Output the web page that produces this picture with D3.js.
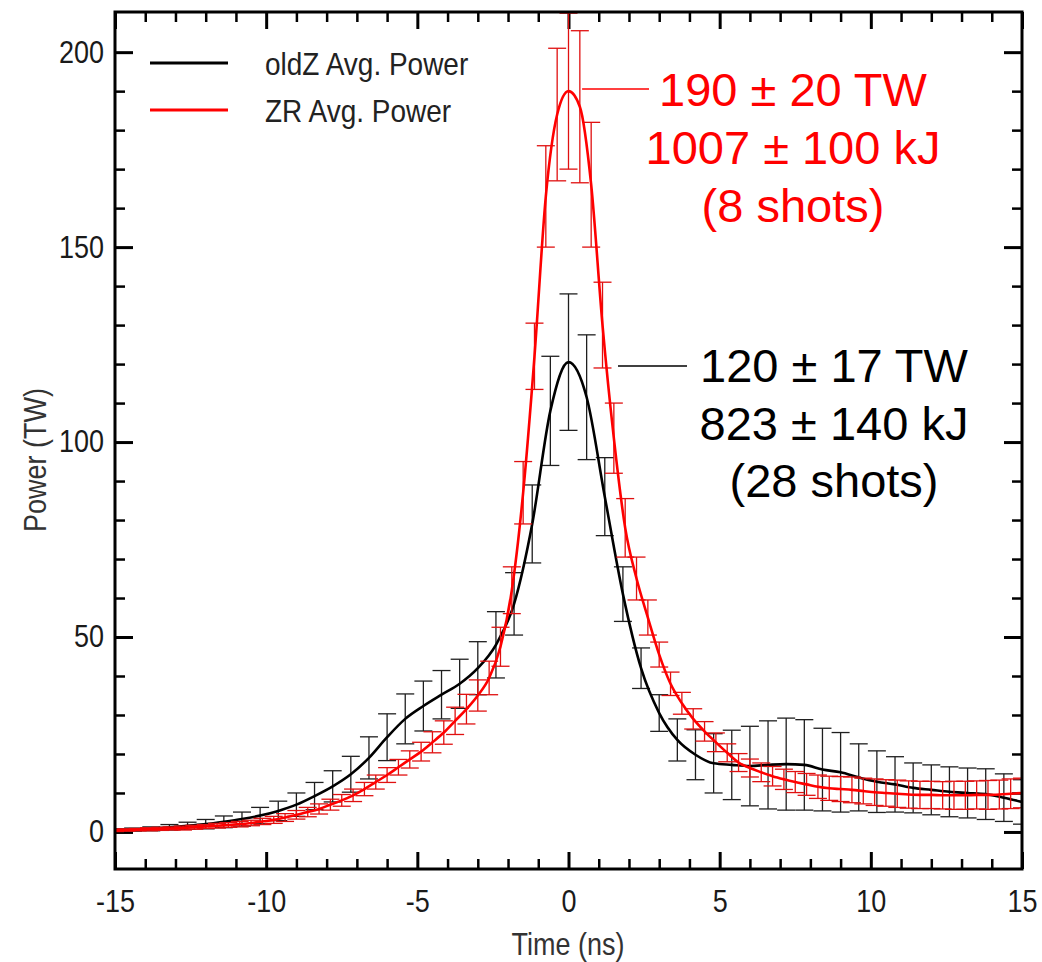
<!DOCTYPE html>
<html><head><meta charset="utf-8">
<script src="https://cdn.jsdelivr.net/npm/d3@7"></script>
<style>html,body{margin:0;padding:0;background:#fff;}svg{display:block;font-family:"Liberation Sans",Arial,sans-serif;}</style>
</head><body><svg id="chart" width="1042" height="962"></svg>
<script>
// ---- data ----
const timeOldZ = [-15,-14.4,-13.8,-13.2,-12.6,-12,-11.4,-10.8,-10.2,-9.6,-9,-8.4,-7.8,-7.2,-6.6,-6,-5.4,-4.8,-4.2,-3.6,-3,-2.4,-1.8,-1.2,-0.6,0,0.6,1.2,1.8,2.4,3,3.6,4.2,4.8,5.4,6,6.6,7.2,7.8,8.4,9,9.6,10.2,10.8,11.4,12,12.6,13.2,13.8,14.4,15];
const powerOldZ = [0.5,0.6,0.8,1.2,1.6,2.0,2.6,3.3,4.2,5.4,
  7.0,9.2,11.7,14.8,19.0,24.3,29.0,32.3,35.2,38.0,
  42.0,48.0,58.5,79,108,120.5,111.5,86,61,42,
  30.5,23.6,19.8,17.6,17.2,16.9,17.2,17.4,17.2,16.0,
  15.3,14.0,12.9,12.2,11.3,10.8,10.3,10.0,9.7,8.8,7.7];
const errOldZ = [0.3,0.4,0.5,0.7,0.9,1.2,1.5,1.8,2.1,2.5,
  3.0,3.5,4.0,4.6,5.4,6.0,6.4,6.4,6.2,6.3,
  6.8,8.5,8.0,10,14,17.5,16,10,7,5.2,
  4.7,5.4,6.4,7.6,8.9,10.2,11.3,11.8,11.6,10.6,
  10.2,8.6,7.9,7.1,6.4,6.4,6.4,6.4,6.5,6.1,5.7];

const timeZR = [-15,-14.625,-14.25,-13.875,-13.5,-13.125,-12.75,-12.375,-12,-11.625,-11.25,-10.875,-10.5,-10.125,-9.75,-9.375,-9,-8.625,-8.25,-7.875,-7.5,-7.125,-6.75,-6.375,-6,-5.625,-5.25,-4.875,-4.5,-4.125,-3.75,-3.375,-3,-2.625,-2.25,-1.875,-1.5,-1.125,-0.75,-0.375,0,0.375,0.75,1.125,1.5,1.875,2.25,2.625,3,3.375,3.75,4.125,4.5,4.875,5.25,5.625,6,6.375,6.75,7.125,7.5,7.875,8.25,8.625,9,9.375,9.75,10.125,10.5,10.875,11.25,11.625,12,12.375,12.75,13.125,13.5,13.875,14.25,14.625,15];
const powerZR = [0.4,0.5,0.6,0.7,0.8,0.9,1.0,1.2,1.4,1.6,
  1.8,2.0,2.3,2.7,3.1,3.7,4.4,5.1,5.9,7.0,
  8.1,9.4,11.0,12.8,14.6,16.6,18.6,20.6,23.0,25.5,
  28.5,31.5,35.0,39.5,47.5,62,87,122,163,184,
  190,186,166,130,101,78,65,55,45.5,38,
  33,29,25.8,23,20.3,17.8,16.4,15.3,14.3,13.5,
  12.8,12.2,11.6,11.2,11.0,10.8,10.5,10.2,10.0,9.8,
  9.6,9.5,9.5,9.4,9.4,9.4,9.5,9.5,9.6,9.8,10.0];
const errZR = [0.3,0.3,0.3,0.4,0.4,0.4,0.5,0.5,0.5,0.6,
  0.6,0.7,0.7,0.8,0.9,1.0,1.1,1.2,1.3,1.4,
  1.5,1.6,1.7,1.8,1.9,2.0,2.2,2.4,2.7,3.0,
  3.5,3.8,4.0,4.3,5.0,6.0,8.0,8.5,13,17,
  20,19.5,16,11,9,7.5,5.5,4.5,3.2,3.0,
  2.8,2.6,2.5,2.4,2.3,2.3,2.3,2.4,2.5,2.6,
  2.7,2.8,3.0,3.1,3.2,3.3,3.3,3.4,3.4,3.5,
  3.5,3.5,3.5,3.5,3.6,3.6,3.6,3.7,3.7,3.8,3.8];

const xMajorTicks = [-15,-10,-5,0,5,10,15];
const yMajorTicks = [0,50,100,150,200];
const seriesNames = ["oldZ Avg. Power","ZR Avg. Power"];
const annotZR = ["190 \u00b1 20 TW","1007 \u00b1 100 kJ","(8 shots)"];
const annotOldZ = ["120 \u00b1 17 TW","823 \u00b1 140 kJ","(28 shots)"];

// ---- layout ----
const L = 115, R = 1022, T = 12, B = 869;
const SY = 1.15; // vertical stretch of the original figure's text
const svg = d3.select("#chart");
svg.append("rect").attr("width",1042).attr("height",962).attr("fill","#fff");

const x = d3.scaleLinear().domain([-15,15]).range([L,R]);
const y = d3.scaleLinear().domain([-9.5,210.3]).range([B,T]);

const xMinor = d3.range(-15,15.01,1).filter(v => v % 5 !== 0);
const yMinor = d3.range(0,210,10).filter(v => v % 50 !== 0);

function styleAxis(g, w){
  g.select(".domain").remove();
  g.selectAll(".tick line").attr("stroke","#000").attr("stroke-width",w);
  g.selectAll("text").attr("font-size",27).attr("fill","#1a1a1a")
    .attr("font-family","Liberation Sans, Arial, sans-serif")
    .attr("transform",`scale(1,${SY})`);
}
const fmt = d => String(d);
// bottom
svg.append("g").attr("transform",`translate(0,${B})`)
  .call(d3.axisBottom(x).tickValues(xMinor).tickSize(-10).tickFormat("")).call(g=>styleAxis(g,2.5));
svg.append("g").attr("transform",`translate(0,${B})`)
  .call(d3.axisBottom(x).tickValues(xMajorTicks).tickSize(-17).tickPadding(18).tickFormat(fmt)).call(g=>styleAxis(g,3));
// top
svg.append("g").attr("transform",`translate(0,${T})`)
  .call(d3.axisTop(x).tickValues(xMinor).tickSize(-10).tickFormat("")).call(g=>styleAxis(g,2.5));
svg.append("g").attr("transform",`translate(0,${T})`)
  .call(d3.axisTop(x).tickValues(xMajorTicks).tickSize(-17).tickFormat("")).call(g=>styleAxis(g,3));
// left
svg.append("g").attr("transform",`translate(${L},0)`)
  .call(d3.axisLeft(y).tickValues(yMinor).tickSize(-10).tickFormat("")).call(g=>styleAxis(g,2.5));
svg.append("g").attr("transform",`translate(${L},0)`)
  .call(d3.axisLeft(y).tickValues(yMajorTicks).tickSize(-18).tickPadding(11).tickFormat(fmt)).call(g=>styleAxis(g,3));
// right
svg.append("g").attr("transform",`translate(${R},0)`)
  .call(d3.axisRight(y).tickValues(yMinor).tickSize(-10).tickFormat("")).call(g=>styleAxis(g,2.5));
svg.append("g").attr("transform",`translate(${R},0)`)
  .call(d3.axisRight(y).tickValues(yMajorTicks).tickSize(-18).tickFormat("")).call(g=>styleAxis(g,3));

// clip
svg.append("clipPath").attr("id","plotclip").append("rect").attr("x",L).attr("y",T).attr("width",R-L).attr("height",B-T);
const plot = svg.append("g").attr("clip-path","url(#plotclip)");

function drawSeries(times, vals, errs, lineColor, barColor){
  const data = times.map((t,i)=>({t, v:vals[i], e:errs[i]}));
  const eb = plot.append("g").attr("stroke",barColor).attr("stroke-width",1.3).attr("fill","none");
  const cap = 9;
  data.forEach(d=>{
    const cx = x(d.t), y1 = y(d.v - d.e), y2 = y(d.v + d.e);
    eb.append("line").attr("x1",cx).attr("x2",cx).attr("y1",y1).attr("y2",y2);
    eb.append("line").attr("x1",cx-cap).attr("x2",cx+cap).attr("y1",y1).attr("y2",y1);
    eb.append("line").attr("x1",cx-cap).attr("x2",cx+cap).attr("y1",y2).attr("y2",y2);
  });
  const line = d3.line().x(d=>x(d.t)).y(d=>y(d.v)).curve(d3.curveMonotoneX);
  plot.append("path").datum(data).attr("d",line).attr("fill","none").attr("stroke",lineColor).attr("stroke-width",2.6);
}
drawSeries(timeOldZ, powerOldZ, errOldZ, "#000", "#1f1f1f");
drawSeries(timeZR, powerZR, errZR, "#ff0000", "#e01010");

// frame
svg.append("rect").attr("x",L).attr("y",T).attr("width",R-L).attr("height",B-T)
  .attr("fill","none").attr("stroke","#000").attr("stroke-width",3);

// legend
const legColors = ["#000","#ff0000"];
seriesNames.forEach((n,i)=>{
  const ly = 63 + i*47;
  svg.append("line").attr("x1",150).attr("x2",228).attr("y1",ly).attr("y2",ly).attr("stroke",legColors[i]).attr("stroke-width",3);
  svg.append("text").attr("transform",`translate(265,${ly+12}) scale(1,${SY})`).attr("font-size",28).attr("fill","#222").text(n);
});

// annotations
svg.append("line").attr("x1",x(0.45)).attr("x2",649).attr("y1",89).attr("y2",89).attr("stroke","#ff0000").attr("stroke-width",1.6);
annotZR.forEach((s,i)=>{
  svg.append("text").attr("x",793).attr("y",106+i*58).attr("text-anchor","middle").attr("font-size",47).attr("fill","#ff0000").text(s);
});
svg.append("line").attr("x1",618).attr("x2",687).attr("y1",366).attr("y2",366).attr("stroke","#000").attr("stroke-width",1.6);
annotOldZ.forEach((s,i)=>{
  svg.append("text").attr("x",834).attr("y",382+i*57.5).attr("text-anchor","middle").attr("font-size",47).attr("fill","#000").text(s);
});

// axis titles
svg.append("text").attr("transform",`translate(46,460) rotate(-90) scale(1,${SY})`).attr("text-anchor","middle").attr("font-size",27).attr("fill","#333").text("Power (TW)");
svg.append("text").attr("transform",`translate(568,955) scale(1,${SY})`).attr("text-anchor","middle").attr("font-size",27).attr("fill","#333").text("Time (ns)");
</script></body></html>
